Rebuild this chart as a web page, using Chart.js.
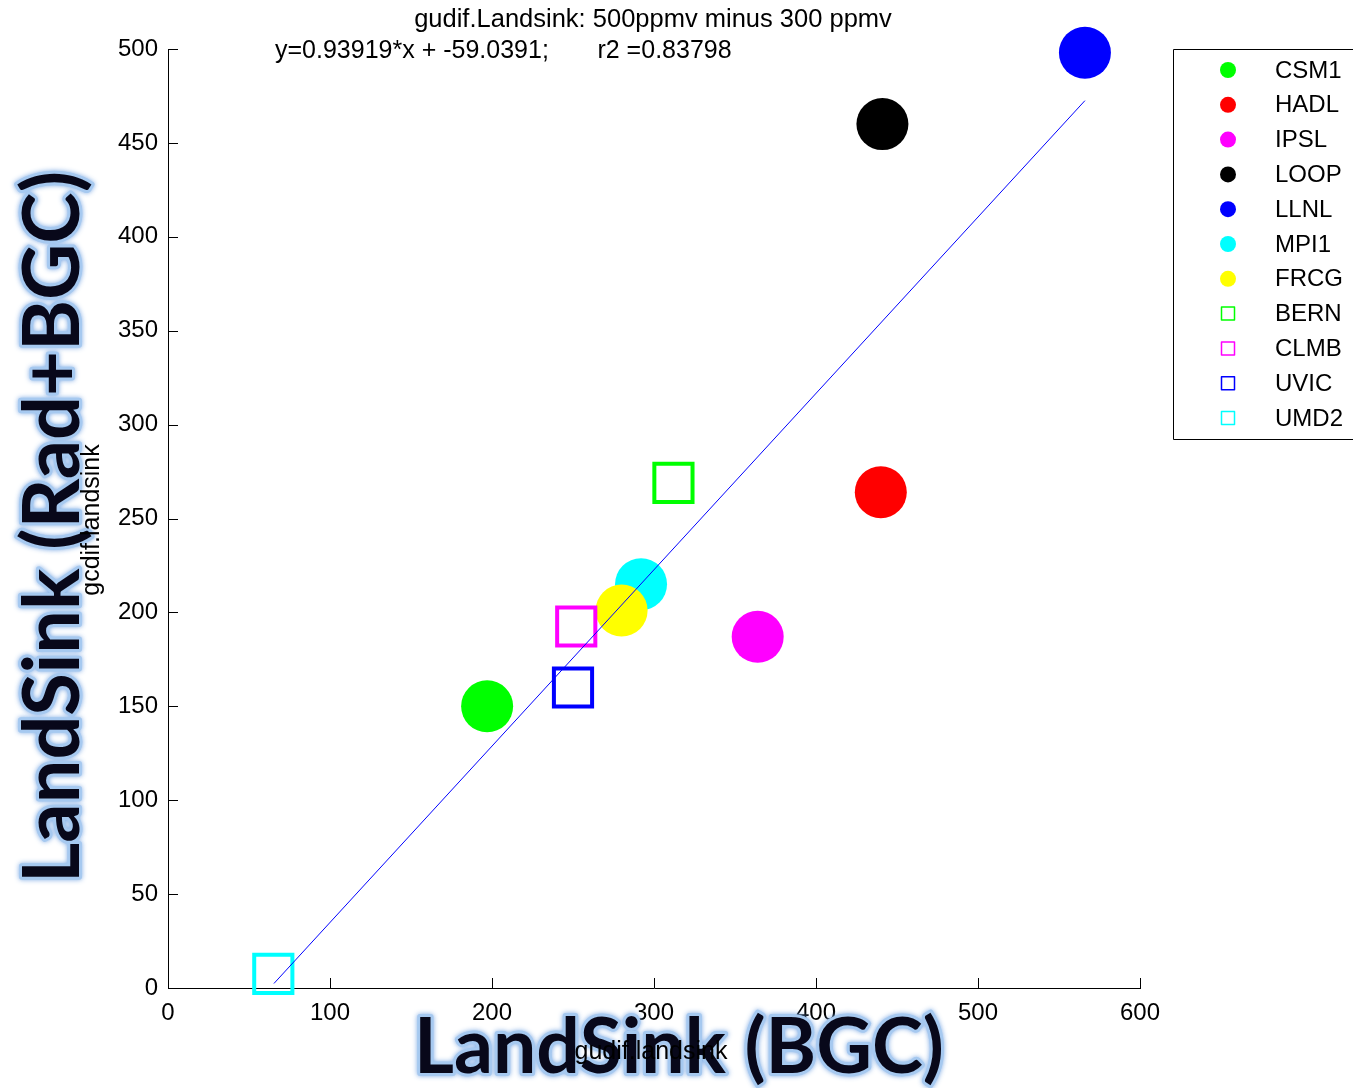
<!DOCTYPE html>
<html>
<head>
<meta charset="utf-8">
<script src="https://cdn.jsdelivr.net/npm/chart.js@4/dist/chart.umd.min.js"></script>
<style>
html,body{margin:0;padding:0;background:#fff;}
#wrap{width:1353px;height:1088px;position:relative;}
</style>
</head>
<body>
<div id="wrap"><canvas id="c" width="1353" height="1088"></canvas></div>
<script>
// ---- data ----
const categories = ['CSM1','HADL','IPSL','LOOP','LLNL','MPI1','FRCG','BERN','CLMB','UVIC','UMD2'];
const xValues = [197, 440, 364, 441, 566, 292, 280, 312, 252, 250, 65];
const yValues = [150, 264, 187, 460, 498, 215, 201, 269, 192.5, 160, 7.5];
const seriesColors = ['#00ff00','#ff0000','#ff00ff','#000000','#0000ff','#00ffff','#ffff00','#00ff00','#ff00ff','#0000ff','#00ffff'];
const seriesShapes = ['circle','circle','circle','circle','circle','circle','circle','rect','rect','rect','rect'];
const fitX = [65.4, 566];
const fitY = [2.4, 472.5];
const xTicks = [0, 100, 200, 300, 400, 500, 600];
const yTicks = [0, 50, 100, 150, 200, 250, 300, 350, 400, 450, 500];
const titleText = 'gudif.Landsink: 500ppmv minus 300 ppmv';
const fitText = 'y=0.93919*x + -59.0391;       r2 =0.83798';
const xSmallLabel = 'gudif.landsink';
const ySmallLabel = 'gcdif.landsink';
const xBigLabel = 'LandSink (BGC)';
const yBigLabel = 'LandSink (Rad+BGC)';

const datasets = [];
datasets.push({
  type: 'line',
  label: 'fit',
  data: fitX.map((x, i) => ({x: x, y: fitY[i]})),
  borderColor: '#0000ff',
  borderWidth: 1,
  pointRadius: 0,
  showLine: true,
  fill: false,
  order: -100,
  clip: false
});
categories.forEach((name, i) => {
  const isRect = seriesShapes[i] === 'rect';
  datasets.push({
    label: name,
    data: [{x: xValues[i], y: yValues[i]}],
    pointStyle: seriesShapes[i],
    pointRadius: isRect ? 27 : 26,
    pointHoverRadius: isRect ? 27 : 26,
    backgroundColor: isRect ? 'rgba(0,0,0,0)' : seriesColors[i],
    borderColor: seriesColors[i],
    borderWidth: isRect ? 4 : 0,
    order: -i,
    clip: false
  });
});

const FONT = '"Liberation Sans", Arial, sans-serif';

function fitFont(ctx, text, family, target) {
  ctx.font = 'bold 100px ' + family;
  const w = ctx.measureText(text).width;
  return 100 * target / w;
}

function glowText(ctx, text, x, y, size, family) {
  ctx.font = 'bold ' + size.toFixed(2) + 'px ' + family;
  ctx.textAlign = 'center';
  ctx.textBaseline = 'alphabetic';
  ctx.lineJoin = 'round';
  ctx.shadowColor = 'rgba(110,160,225,0.9)';
  ctx.shadowBlur = 5;
  ctx.strokeStyle = '#a6c9f0';
  ctx.lineWidth = 6;
  ctx.strokeText(text, x, y);
  ctx.shadowBlur = 0;
  ctx.shadowColor = 'rgba(0,0,0,0)';
  ctx.fillStyle = '#08081a';
  ctx.fillText(text, x, y);
}

const overlay = {
  id: 'overlay',
  beforeDatasetsDraw(chart) {
    const ctx = chart.ctx, xs = chart.scales.x, ys = chart.scales.y;
    ctx.save();
    ctx.strokeStyle = '#000';
    ctx.lineWidth = 1;
    ctx.beginPath();
    xTicks.forEach(v => {
      const px = Math.round(xs.getPixelForValue(v)) + 0.5;
      ctx.moveTo(px, ys.bottom);
      ctx.lineTo(px, ys.bottom - 10);
    });
    yTicks.forEach(v => {
      const py = Math.round(ys.getPixelForValue(v)) + 0.5;
      ctx.moveTo(xs.left, py);
      ctx.lineTo(xs.left + 10, py);
    });
    ctx.stroke();
    ctx.restore();
  },
  afterDraw(chart) {
    const ctx = chart.ctx;
    ctx.save();
    // titles
    ctx.fillStyle = '#000';
    ctx.font = '25.5px ' + FONT;
    ctx.textBaseline = 'middle';
    ctx.textAlign = 'center';
    ctx.fillText(titleText, 653, 20);
    ctx.font = '25px ' + FONT;
    ctx.textAlign = 'left';
    ctx.fillText(fitText, 275, 51);

    // big glowing axis labels
    const fam = 'Lato, "Open Sans", sans-serif';
    const sy = fitFont(ctx, yBigLabel, fam, 712);
    ctx.save();
    ctx.translate(79, 527);
    ctx.rotate(-Math.PI / 2);
    glowText(ctx, yBigLabel, 0, 0, sy, fam);
    ctx.restore();
    const sx = fitFont(ctx, xBigLabel, fam, 530);
    glowText(ctx, xBigLabel, 679, 1073, sx, fam);

    // small axis labels
    ctx.fillStyle = '#000';
    ctx.font = '25px ' + FONT;
    ctx.textAlign = 'center';
    ctx.textBaseline = 'middle';
    ctx.fillText(xSmallLabel, 651, 1052);
    ctx.save();
    ctx.translate(92, 520);
    ctx.rotate(-Math.PI / 2);
    ctx.fillText(ySmallLabel, 0, 0);
    ctx.restore();

    // legend
    const lx = 1173.5, ly = 49.5, lw = 200, lh = 390;
    ctx.fillStyle = '#fff';
    ctx.fillRect(lx, ly, lw, lh);
    ctx.strokeStyle = '#000';
    ctx.lineWidth = 1;
    ctx.strokeRect(lx, ly, lw, lh);
    ctx.font = '24px ' + FONT;
    ctx.textAlign = 'left';
    ctx.textBaseline = 'middle';
    categories.forEach((name, i) => {
      const cy = 70 + i * 34.8;
      const cx = 1228;
      if (seriesShapes[i] === 'circle') {
        ctx.fillStyle = seriesColors[i];
        ctx.beginPath();
        ctx.arc(cx, cy, 8, 0, Math.PI * 2);
        ctx.fill();
      } else {
        ctx.strokeStyle = seriesColors[i];
        ctx.lineWidth = 1.5;
        ctx.strokeRect(cx - 6.5, cy - 6.5, 13, 13);
      }
      ctx.fillStyle = '#000';
      ctx.fillText(name, 1275, cy + 1);
    });
    ctx.restore();
  }
};

new Chart(document.getElementById('c'), {
  type: 'scatter',
  data: { datasets: datasets },
  options: {
    responsive: false,
    animation: false,
    devicePixelRatio: 1,
    layout: { padding: { left: 0, right: 213, top: 49, bottom: 0 } },
    plugins: { legend: { display: false }, tooltip: { enabled: false }, title: { display: false } },
    scales: {
      x: {
        type: 'linear',
        min: 0, max: 600,
        afterBuildTicks(scale) { scale.ticks = xTicks.map(v => ({value: v})); },
        afterFit(scale) { scale.height = 100; },
        grid: { display: true, drawOnChartArea: false, drawTicks: false, color: 'rgba(0,0,0,0)' },
        border: { display: true, color: '#000', width: 1 },
        ticks: { autoSkip: false, maxRotation: 0, padding: 11, color: '#000', font: { family: FONT, size: 24 } }
      },
      y: {
        type: 'linear',
        min: 0, max: 500,
        afterBuildTicks(scale) { scale.ticks = yTicks.map(v => ({value: v})); },
        afterFit(scale) { scale.width = 168; },
        grid: { display: true, drawOnChartArea: false, drawTicks: false, color: 'rgba(0,0,0,0)' },
        border: { display: true, color: '#000', width: 1 },
        ticks: { autoSkip: false, padding: 10, color: '#000', font: { family: FONT, size: 24 } }
      }
    }
  },
  plugins: [overlay]
});
</script>
</body>
</html>
